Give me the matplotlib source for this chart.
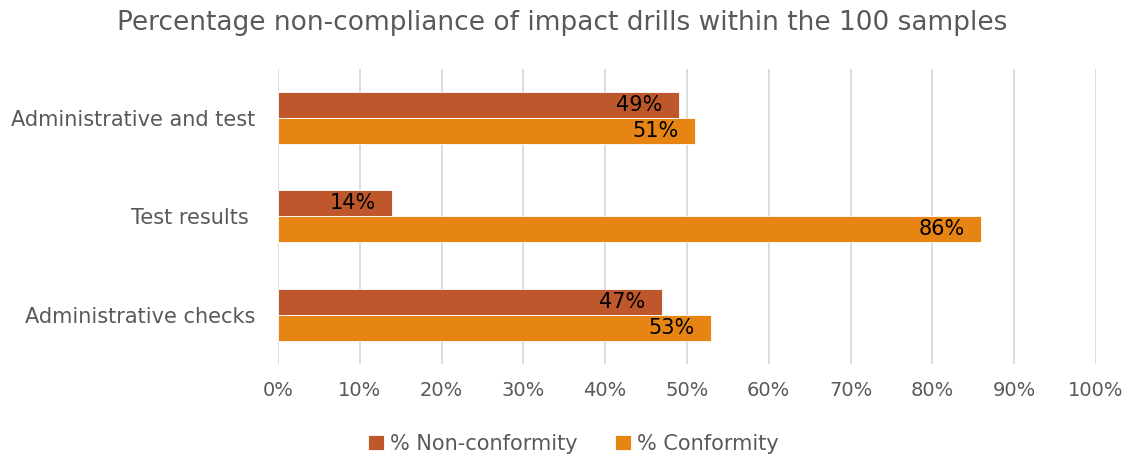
import matplotlib.pyplot as plt
from matplotlib.ticker import PercentFormatter

categories = ["Administrative checks", "Test results ", "Administrative and test"]
non_conformity = [47, 14, 49]
conformity = [53, 86, 51]
ticks = list(range(0, 101, 10))

c_non = "#BE582C"
c_conf = "#E68414"
grey = "#595959"

plt.rcParams["font.family"] = ["DejaVu Sans"]

fig = plt.figure(figsize=(11.24, 4.59), dpi=100)
ax = fig.add_axes([0.2473, 0.207, 0.7277, 0.643])

h = 0.265
y = list(range(len(categories)))
b1 = ax.barh([v + h / 2 for v in y], non_conformity, height=h, color=c_non,
             edgecolor="white", linewidth=0.6, label="% Non-conformity", zorder=3)
b2 = ax.barh([v - h / 2 for v in y], conformity, height=h, color=c_conf,
             edgecolor="white", linewidth=0.6, label="% Conformity", zorder=3)

for bars, vals in ((b1, non_conformity), (b2, conformity)):
    for bar, v in zip(bars, vals):
        ax.annotate(f"{v}%", (v, bar.get_y() + bar.get_height() / 2),
                    xytext=(-12, 0), textcoords="offset points",
                    ha="right", va="center", fontsize=15, color="black", zorder=4)

ax.set_xlim(0, 100)
ax.set_ylim(-0.5, 2.5)
ax.set_xticks(ticks)
ax.xaxis.set_major_formatter(PercentFormatter(decimals=0))
ax.set_yticks(y)
ax.set_yticklabels(categories)
ax.tick_params(axis="x", length=0, labelsize=14, labelcolor=grey, pad=12)
ax.tick_params(axis="y", length=0, labelsize=15, labelcolor=grey, pad=16)
ax.grid(axis="x", color="#D9D9D9", linewidth=1.3, zorder=0)
for s in ax.spines.values():
    s.set_visible(False)

fig.suptitle("Percentage non-compliance of impact drills within the 100 samples",
             x=0.5, y=0.978, fontsize=19, color=grey)

fig.legend(loc="lower center", bbox_to_anchor=(0.51, -0.03), ncol=2, frameon=False,
           fontsize=15, labelcolor=grey, handlelength=0.75, handleheight=0.75,
           handletextpad=0.3, columnspacing=1.8)

fig.savefig("out.png", dpi=100)
